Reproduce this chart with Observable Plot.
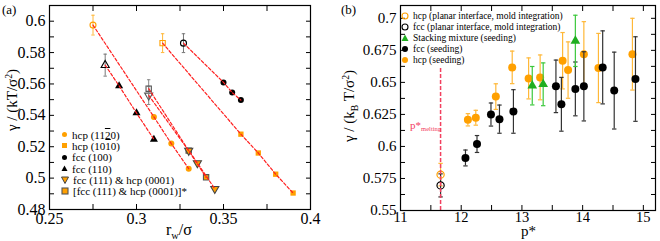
<!DOCTYPE html>
<html><head><meta charset="utf-8">
<script src="https://cdn.jsdelivr.net/npm/d3@7"></script>
<script src="https://cdn.jsdelivr.net/npm/@observablehq/plot@0.6"></script>
<style>
body{margin:0;background:#fff;}
#wrap{position:relative;width:660px;height:241px;overflow:hidden;font-family:"Liberation Serif","Times New Roman",serif;color:#000;}
.panel{position:absolute;top:0;}
.lbl{position:absolute;white-space:nowrap;line-height:1;}
.ov{text-decoration:overline;}
.leg{position:absolute;white-space:nowrap;}
.leg div{display:flex;align-items:center;}
.leg svg{flex:none;}
sub{font-size:65%;vertical-align:-0.35em;}
sup{font-size:65%;vertical-align:0.55em;}
</style></head><body><div id="wrap"></div>
<script>
// ---------------- Panel (a) data ----------------
const hcp1120Rw = [0.31, 0.32, 0.33];
const hcp1120G  = [0.539, 0.522, 0.506];
const hcp1010Rw = [0.36, 0.37, 0.38, 0.39];
const hcp1010G  = [0.528, 0.516, 0.5025, 0.4905];
const fcc100Rw  = [0.35, 0.355, 0.36];
const fcc100G   = [0.561, 0.5545, 0.5497];
const fcc110Rw  = [0.29, 0.30, 0.31];
const fcc110G   = [0.5588, 0.5415, 0.5247];
const fcc111Rw  = [0.33, 0.335, 0.345];
const fcc111G   = [0.5175, 0.5096, 0.4932];
const fcc111sRw = [0.33, 0.34];
const fcc111sG  = [0.5175, 0.5005];
// planar-interface (mold integration) points, one per series
const aSeries   = ["hcp1120", "hcp1010", "fcc100", "fcc110", "fcc111", "fcc111s"];
const planarRw  = [0.275, 0.315, 0.327, 0.282, 0.307, 0.307];
const planarG   = [0.5975, 0.586, 0.586, 0.572, 0.5527, 0.557];
const planarErr = [0.0063, 0.006, 0.006, 0.007, 0.0058, 0.0057];
const aXTicks = [0.25, 0.3, 0.35, 0.4];
const aYTicks = [0.48, 0.5, 0.52, 0.54, 0.56, 0.58, 0.6];

// ---------------- Panel (b) data ----------------
const pMelting = 11.66;
const meltLineTop = 0.662;
const hcpPlanarP = [11.66], hcpPlanarG = [0.578],  hcpPlanarErr = [0.0088];
const fccPlanarP = [11.66], fccPlanarG = [0.5696], fccPlanarErr = [0.009];
const stackP   = [13.17, 13.35, 13.88];
const stackG   = [0.6474, 0.6485, 0.6824];
const stackErr = [0.015, 0.0167, 0.02];
const fccSeedP   = [12.07, 12.26, 12.49, 12.63, 12.86, 13.56, 13.65, 13.88, 14.02, 14.33, 14.52, 14.87];
const fccSeedG   = [0.591, 0.6019, 0.6249, 0.6213, 0.6273, 0.6469, 0.6329, 0.6449, 0.6469, 0.6617, 0.6436, 0.6526];
const fccSeedErr = [0.0062, 0.0066, 0.009, 0.011, 0.017, 0.0205, 0.021, 0.021, 0.027, 0.0285, 0.030, 0.033];
const hcpSeedP   = [12.11, 12.24, 12.57, 12.84, 13.11, 13.30, 13.67, 13.76, 14.02, 14.26, 14.82];
const hcpSeedG   = [0.6208, 0.6224, 0.6389, 0.6617, 0.6531, 0.6539, 0.6669, 0.6596, 0.6720, 0.6612, 0.672];
const hcpSeedErr = [0.0048, 0.0058, 0.01, 0.0127, 0.016, 0.0175, 0.022, 0.022, 0.0254, 0.027, 0.028];
const bXTicks = [11, 12, 13, 14, 15];
const bYTicks = [0.55, 0.575, 0.6, 0.625, 0.65, 0.675, 0.7];

// ---------------- styles ----------------
const ORANGE = "#ffa000", ORANGE_BAR = "#ffb838", GREEN = "#1fae1f", GREEN_BAR = "#3cc83c";
const RED = "#ff2020", PINK = "#f2405f";
const FONT = "Liberation Serif";
const fmt = d => String(+d.toFixed(4));
const cap = { draw(ctx, size) { const w = Math.sqrt(size / Math.PI); ctx.moveTo(-w, 0); ctx.lineTo(w, 0); } };
const zipPts = (xs, ys, es) => xs.map((x, i) => ({ x, y: ys[i], e: es ? es[i] : 0 }));

const aStyle = {
  hcp1120: { sym: "circle", rot: 0, col: ORANGE, bar: ORANGE_BAR },
  hcp1010: { sym: "square", rot: 0, col: ORANGE, bar: ORANGE_BAR },
  fcc100:  { sym: "circle", rot: 0, col: "#000", bar: "#777" },
  fcc110:  { sym: "triangle", rot: 0, col: "#000", bar: "#777" },
  fcc111:  { sym: "triangle", rot: 180, col: "#555", bar: "#888" },
  fcc111s: { sym: "square", rot: 0, col: "#555", bar: "#888" }
};

function frameTicks(xMinor, yMinor, xMajor, yMajor, fsX, fsY, padX, padY) {
  return [
    Plot.axisX(xMinor, { anchor: "bottom", tickSize: -5, tickFormat: () => "", label: null }),
    Plot.axisX(xMinor, { anchor: "top", tickSize: -5, tickFormat: () => "", label: null }),
    Plot.axisY(yMinor, { anchor: "left", tickSize: -5, tickFormat: () => "", label: null }),
    Plot.axisY(yMinor, { anchor: "right", tickSize: -5, tickFormat: () => "", label: null }),
    Plot.axisX(xMajor, { anchor: "bottom", tickSize: 0, tickPadding: padX, tickFormat: fmt, label: null, fontSize: fsX }),
    Plot.axisY(yMajor, { anchor: "left", tickSize: 0, tickPadding: padY, tickFormat: fmt, label: null, fontSize: fsY }),
    Plot.frame({ stroke: "#000", strokeWidth: 1.2 })
  ];
}

// ---------------- Panel (a) ----------------
const aFilled = {
  hcp1120: zipPts(hcp1120Rw, hcp1120G), hcp1010: zipPts(hcp1010Rw, hcp1010G),
  fcc100: zipPts(fcc100Rw, fcc100G), fcc110: zipPts(fcc110Rw, fcc110G),
  fcc111: zipPts(fcc111Rw, fcc111G), fcc111s: zipPts(fcc111sRw, fcc111sG)
};
const aPlanar = aSeries.map((s, i) => ({ s, x: planarRw[i], y: planarG[i], e: planarErr[i] }));
const aLines = aSeries.flatMap((s, i) => [aPlanar[i], ...aFilled[s].map(p => ({ ...p, s }))]);

const aMarks = [];
aPlanar.forEach(p => {
  const st = aStyle[p.s];
  aMarks.push(Plot.ruleX([p], { x: "x", y1: d => d.y - d.e, y2: d => d.y + d.e, stroke: st.bar, strokeWidth: 1 }));
  aMarks.push(Plot.dot([p], { x: "x", y: d => d.y - d.e, symbol: cap, r: 1.7, stroke: st.bar, strokeWidth: 1 }));
  aMarks.push(Plot.dot([p], { x: "x", y: d => d.y + d.e, symbol: cap, r: 1.7, stroke: st.bar, strokeWidth: 1 }));
  aMarks.push(Plot.dot([p], { x: "x", y: "y", symbol: st.sym, rotate: st.rot, r: 3, stroke: st.col, fill: "none", strokeWidth: 1.1 }));
});
const aFillStyle = {
  hcp1120: { fill: ORANGE, stroke: "none" }, hcp1010: { fill: ORANGE, stroke: "none" },
  fcc100: { fill: "#000", stroke: "none" }, fcc110: { fill: "#000", stroke: "none" },
  fcc111: { fill: ORANGE, stroke: "#444" }, fcc111s: { fill: ORANGE, stroke: "#555" }
};
["fcc111s", "hcp1120", "hcp1010", "fcc100", "fcc110", "fcc111"].forEach(s => {
  const st = aStyle[s], fs = aFillStyle[s];
  aMarks.push(Plot.dot(aFilled[s], { x: "x", y: "y", symbol: st.sym, rotate: st.rot, r: 3, fill: fs.fill, stroke: fs.stroke, strokeWidth: 1.1 }));
});
aMarks.push(Plot.line(aLines, { x: "x", y: "y", z: "s", stroke: RED, strokeWidth: 1.2, strokeDasharray: "3,2" }));

const plotA = Plot.plot({
  width: 330, height: 241,
  marginLeft: 49, marginRight: 20, marginTop: 5, marginBottom: 32,
  style: { fontFamily: FONT, fontSize: "16px", background: "white", color: "#000" },
  x: { domain: [0.25, 0.4] },
  y: { domain: [0.48, 0.61] },
  marks: [...aMarks, ...frameTicks(d3.range(0.25, 0.4001, 0.025), d3.range(0.48, 0.6101, 0.01), aXTicks, aYTicks, 16, 16, 3, 4)]
});

// ---------------- Panel (b) ----------------
function errMarks(pts, barCol, capR, sw) {
  return [
    Plot.ruleX(pts, { x: "x", y1: d => d.y - d.e, y2: d => d.y + d.e, stroke: barCol, strokeWidth: sw }),
    Plot.dot(pts, { x: "x", y: d => d.y - d.e, symbol: cap, r: capR, stroke: barCol, strokeWidth: sw }),
    Plot.dot(pts, { x: "x", y: d => d.y + d.e, symbol: cap, r: capR, stroke: barCol, strokeWidth: sw })
  ];
}
const hcpSeed = zipPts(hcpSeedP, hcpSeedG, hcpSeedErr);
const fccSeed = zipPts(fccSeedP, fccSeedG, fccSeedErr);
const stack = zipPts(stackP, stackG, stackErr);
const hcpPlanar = zipPts(hcpPlanarP, hcpPlanarG, hcpPlanarErr);
const fccPlanar = zipPts(fccPlanarP, fccPlanarG, fccPlanarErr);

const plotB = Plot.plot({
  width: 330, height: 241,
  marginLeft: 70, marginRight: 5, marginTop: 5, marginBottom: 31,
  style: { fontFamily: FONT, fontSize: "15px", background: "white", color: "#000" },
  x: { domain: [11, 15.2] },
  y: { domain: [0.55, 0.71] },
  marks: [
    ...errMarks(hcpSeed, ORANGE_BAR, 2.2, 1.2),
    Plot.dot(hcpSeed, { x: "x", y: "y", r: 4, fill: ORANGE }),
    ...errMarks(fccSeed, "#333", 2.2, 1.2),
    Plot.dot(fccSeed, { x: "x", y: "y", r: 4, fill: "#000" }),
    ...errMarks(stack, GREEN_BAR, 2.2, 1.2),
    Plot.dot(stack, { x: "x", y: "y", r: 3.6, symbol: "triangle", fill: GREEN }),
    ...errMarks(hcpPlanar, ORANGE_BAR, 2.2, 1.2),
    ...errMarks(fccPlanar, "#333", 2.2, 1.2),
    Plot.dot(hcpPlanar, { x: "x", y: "y", r: 3.6, stroke: ORANGE, fill: "none", strokeWidth: 1.2 }),
    Plot.dot(fccPlanar, { x: "x", y: "y", r: 3.6, stroke: "#000", fill: "none", strokeWidth: 1.2 }),
    Plot.ruleX([pMelting], { x: d => d, y1: 0.55, y2: meltLineTop, stroke: PINK, strokeWidth: 1.5, strokeDasharray: "4,2" }),
    ...frameTicks(d3.range(11, 15.01, 0.5), d3.range(0.55, 0.7101, 0.0125), bXTicks, bYTicks, 14.5, 15, 1, 4)
  ]
});

// ---------------- assemble ----------------
const wrap = document.getElementById("wrap");
const pa = document.createElement("div"); pa.className = "panel"; pa.style.left = "0px"; pa.appendChild(plotA); wrap.appendChild(pa);
const pb = document.createElement("div"); pb.className = "panel"; pb.style.left = "330px"; pb.appendChild(plotB); wrap.appendChild(pb);

function addLbl(html, css) {
  const d = document.createElement("div"); d.className = "lbl"; d.innerHTML = html;
  Object.assign(d.style, css); wrap.appendChild(d); return d;
}
addLbl("(a)", { left: "2px", top: "3px", fontSize: "13px" });
addLbl("(b)", { left: "341px", top: "3px", fontSize: "13px" });
addLbl("r<sub>w</sub>/σ", { left: "166px", top: "222px", fontSize: "16px" });
addLbl("p*", { left: "521px", top: "224px", fontSize: "15px" });
addLbl("γ / (kT/σ<sup>2</sup>)", { left: "12px", top: "100px", fontSize: "15px", transform: "translate(-50%,-50%) rotate(-90deg)" });
addLbl("γ / (k<sub>B</sub> T/σ<sup>2</sup>)", { left: "350px", top: "106px", fontSize: "15px", transform: "translate(-50%,-50%) rotate(-90deg)" });
addLbl("p*<sub style='font-size:60%'>melting</sub>", { left: "410px", top: "120px", fontSize: "11px", color: PINK });

function mk(shape, fill, stroke, size) {
  const s = size || 8, c = s / 2;
  let inner = "";
  if (shape === "circle") inner = `<circle cx="${c}" cy="${c}" r="${c - 1}" fill="${fill}" stroke="${stroke}" stroke-width="1.1"/>`;
  if (shape === "square") inner = `<rect x="1" y="1" width="${s - 2}" height="${s - 2}" fill="${fill}" stroke="${stroke}" stroke-width="1.1"/>`;
  if (shape === "tri") inner = `<path d="M${c},0.5 L${s - 0.5},${s - 1} L0.5,${s - 1}Z" fill="${fill}" stroke="${stroke}" stroke-width="1"/>`;
  if (shape === "itri") inner = `<path d="M0.5,1 L${s - 0.5},1 L${c},${s - 0.5}Z" fill="${fill}" stroke="${stroke}" stroke-width="1"/>`;
  return `<svg width="${s}" height="${s}">${inner}</svg>`;
}
function legend(rows, css, gap, lh) {
  const d = document.createElement("div"); d.className = "leg"; Object.assign(d.style, css);
  d.innerHTML = rows.map(r => `<div style="height:${lh}px">${r[0]}<span style="margin-left:${gap}px">${r[1]}</span></div>`).join("");
  wrap.appendChild(d);
}
legend([
  [mk("circle", ORANGE, "none", 7), "hcp (11<span class='ov'>2</span>0)"],
  [mk("square", ORANGE, "none", 7), "hcp (10<span class='ov'>1</span>0)"],
  [mk("circle", "#000", "none", 7), "fcc (100)"],
  [mk("tri", "#000", "none", 7), "fcc (110)"],
  [mk("itri", ORANGE, "#444", 8), "fcc (111) &amp; hcp (0001)"],
  [mk("square", ORANGE, "#555", 8), "[fcc (111) &amp; hcp (0001)]*"]
], { left: "61px", top: "129px", fontSize: "11px" }, 4, 11.3);
legend([
  [mk("circle", "none", ORANGE, 8), "hcp (planar interface, mold integration)"],
  [mk("circle", "none", "#000", 8), "fcc (planar interface, mold integration)"],
  [mk("tri", GREEN, "none", 8), "Stacking mixture (seeding)"],
  [mk("circle", "#000", "none", 8), "fcc (seeding)"],
  [mk("circle", ORANGE, "none", 8), "hcp (seeding)"]
], { left: "401px", top: "10px", fontSize: "9.5px" }, 4, 11);
</script>
</body></html>
